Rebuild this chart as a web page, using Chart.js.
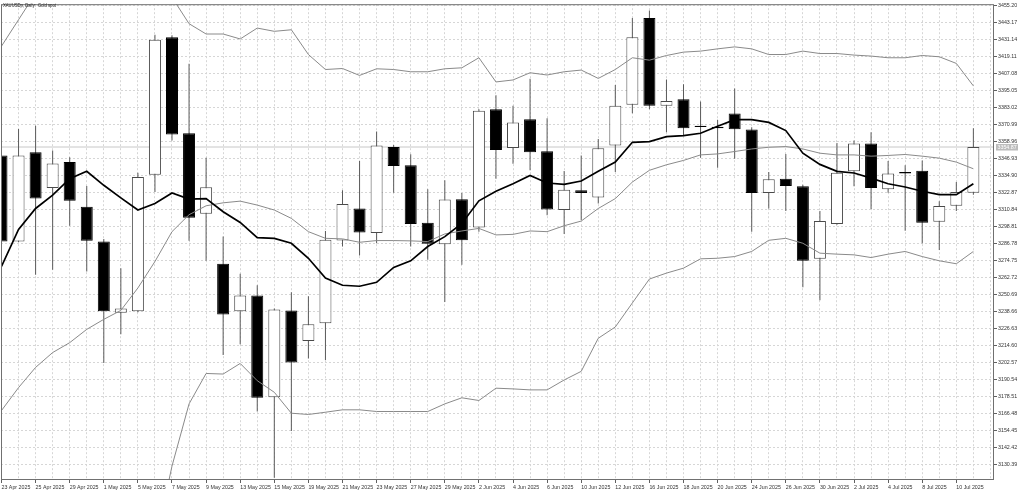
<!DOCTYPE html>
<html>
<head>
<meta charset="utf-8">
<title>XAUUSDp, Daily</title>
<script src="https://cdn.jsdelivr.net/npm/chart.js"></script>
<style>
  html, body { margin: 0; padding: 0; background: #ffffff; }
  canvas { display: block; }
</style>
</head>
<body>
<canvas id="chart" width="1024" height="492"></canvas>
<script>
const chartTitle = 'XAUUSDp, Daily:  Gold spot';

const dates = [
    '23 Apr 2025', '24 Apr 2025', '25 Apr 2025', '28 Apr 2025', '29 Apr 2025', '30 Apr 2025',
    '1 May 2025', '2 May 2025', '5 May 2025', '6 May 2025', '7 May 2025', '8 May 2025', '9 May 2025',
    '12 May 2025', '13 May 2025', '14 May 2025', '15 May 2025', '16 May 2025', '19 May 2025',
    '20 May 2025', '21 May 2025', '22 May 2025', '23 May 2025', '26 May 2025', '27 May 2025',
    '28 May 2025', '29 May 2025', '30 May 2025', '2 Jun 2025', '3 Jun 2025', '4 Jun 2025',
    '5 Jun 2025', '6 Jun 2025', '9 Jun 2025', '10 Jun 2025', '11 Jun 2025', '12 Jun 2025',
    '13 Jun 2025', '16 Jun 2025', '17 Jun 2025', '18 Jun 2025', '19 Jun 2025', '20 Jun 2025',
    '23 Jun 2025', '24 Jun 2025', '25 Jun 2025', '26 Jun 2025', '27 Jun 2025', '30 Jun 2025',
    '1 Jul 2025', '2 Jul 2025', '3 Jul 2025', '4 Jul 2025', '7 Jul 2025', '8 Jul 2025',
    '9 Jul 2025', '10 Jul 2025', '11 Jul 2025'
];

const opens = [
    3348.9, 3288.0, 3351.2, 3325.9, 3344.2, 3312.6, 3288.0, 3237.6, 3238.8, 3335.3,
    3432.5, 3364.6, 3307.7, 3272.3, 3238.8, 3249.8, 3177.9, 3239.3, 3217.7, 3230.2,
    3288.7, 3311.4, 3294.1, 3354.9, 3341.9, 3301.3, 3286.1, 3318.0, 3298.0, 3381.6,
    3354.2, 3374.6, 3351.9, 3310.3, 3324.3, 3319.1, 3355.9, 3384.7, 3446.1, 3384.0,
    3388.7, 3370.0, 3369.2, 3378.6, 3367.2, 3322.4, 3332.5, 3327.1, 3275.8, 3300.4,
    3337.7, 3357.3, 3325.0, 3337.2, 3338.1, 3302.0, 3313.3, 3322.6
];
const highs = [
    3351.2, 3367.6, 3370.0, 3352.4, 3347.7, 3327.3, 3289.9, 3269.2, 3336.7, 3434.3,
    3433.9, 3413.7, 3347.2, 3291.5, 3265.3, 3257.1, 3240.6, 3252.1, 3249.3, 3295.5,
    3324.3, 3344.9, 3365.8, 3356.3, 3349.8, 3325.0, 3331.3, 3322.4, 3381.6, 3391.5,
    3384.0, 3403.2, 3375.3, 3337.9, 3348.9, 3360.6, 3398.8, 3446.1, 3451.5, 3402.7,
    3399.2, 3387.0, 3374.2, 3396.2, 3368.8, 3337.2, 3350.0, 3328.2, 3309.6, 3357.7,
    3359.4, 3365.3, 3344.9, 3341.9, 3345.4, 3316.6, 3330.1, 3368.1
];
const lows = [
    3285.9, 3287.5, 3264.6, 3268.1, 3299.2, 3266.9, 3202.1, 3222.4, 3238.0, 3323.1,
    3359.4, 3288.5, 3274.4, 3207.7, 3215.4, 3167.8, 3121.0, 3154.0, 3205.3, 3204.2,
    3284.5, 3278.1, 3286.8, 3322.6, 3284.5, 3275.1, 3245.3, 3271.6, 3295.0, 3332.5,
    3343.0, 3338.4, 3306.7, 3293.4, 3303.2, 3314.9, 3337.2, 3378.8, 3381.6, 3365.3,
    3362.9, 3347.2, 3340.2, 3346.5, 3295.0, 3311.4, 3309.6, 3255.7, 3246.5, 3299.9,
    3327.1, 3311.0, 3322.6, 3295.7, 3286.8, 3282.1, 3309.6, 3321.2
];
const closes = [
    3288.0, 3348.9, 3318.4, 3343.3, 3316.8, 3288.5, 3238.8, 3240.7, 3333.6, 3430.8,
    3363.7, 3304.8, 3326.4, 3236.5, 3249.8, 3177.5, 3240.0, 3202.5, 3229.5, 3289.2,
    3314.5, 3294.5, 3355.9, 3341.4, 3300.4, 3286.4, 3317.7, 3288.9, 3380.5, 3352.8,
    3372.3, 3351.2, 3310.7, 3324.7, 3322.4, 3354.0, 3384.0, 3432.5, 3384.0, 3387.5,
    3368.1, 3369.0, 3368.2, 3367.4, 3322.4, 3332.0, 3327.3, 3274.4, 3302.5, 3336.7,
    3357.3, 3325.9, 3336.2, 3336.2, 3301.3, 3313.1, 3323.1, 3354.87
];

// Bollinger bands (upper part above the chart and lower part below it at the start)
const bandUpper = [
    3426.2, 3444.9, 3463.6, 3476.3, 3484.7, 3488.9, 3490.3, 3488.2, 3483.3, 3474.9,
    3460.8, 3442.1, 3434.8, 3434.8, 3431.3, 3439.0, 3436.7, 3437.8, 3420.3, 3409.7,
    3410.4, 3405.5, 3410.2, 3409.7, 3408.1, 3408.1, 3410.2, 3410.9, 3418.0, 3400.9,
    3402.3, 3407.4, 3405.8, 3408.1, 3409.3, 3403.4, 3409.7, 3418.0, 3416.3, 3419.6,
    3422.0, 3422.7, 3424.3, 3425.7, 3424.3, 3420.3, 3420.3, 3422.7, 3421.0, 3421.0,
    3419.9, 3419.2, 3418.0, 3418.0, 3419.6, 3418.7, 3414.0, 3398.1
];
const bandMiddle = [
    3168.5, 3184.7, 3199.0, 3209.5, 3216.5, 3225.9, 3233.0, 3239.3, 3255.2, 3273.9,
    3295.0, 3307.0, 3313.3, 3315.4, 3316.6, 3313.8, 3310.3, 3304.4, 3295.0, 3290.3,
    3289.9, 3287.5, 3288.7, 3288.7, 3288.5, 3288.0, 3293.4, 3295.5, 3297.3, 3292.7,
    3293.1, 3295.5, 3295.0, 3299.2, 3302.5, 3311.4, 3318.4, 3330.1, 3338.4, 3342.3,
    3345.4, 3349.3, 3350.0, 3351.7, 3353.5, 3354.7, 3355.2, 3353.5, 3350.5, 3349.3,
    3349.3, 3348.4, 3348.9, 3349.6, 3348.4, 3347.0, 3344.2, 3339.5
];
const bandLower = [
    2910.9, 2924.7, 2934.6, 2943.0, 2948.6, 2962.7, 2975.3, 2990.1, 3027.3, 3073.0,
    3129.2, 3173.2, 3194.7, 3194.3, 3201.8, 3189.6, 3181.4, 3166.6, 3165.7, 3167.3,
    3169.0, 3169.0, 3167.8, 3167.8, 3167.8, 3167.8, 3173.2, 3177.5, 3175.6, 3184.3,
    3183.8, 3183.1, 3183.1, 3190.1, 3196.2, 3219.6, 3227.6, 3244.6, 3261.5, 3265.7,
    3269.2, 3275.8, 3276.2, 3277.4, 3281.0, 3288.9, 3290.3, 3286.8, 3279.8, 3279.1,
    3278.6, 3276.7, 3279.1, 3281.0, 3277.4, 3274.4, 3272.3, 3281.0
];
// moving average (thick line)
const maLine = [
    3270.4, 3296.6, 3311.4, 3320.8, 3332.5, 3337.7, 3327.8, 3318.9, 3310.3, 3314.9,
    3322.4, 3318.0, 3318.4, 3309.1, 3301.5, 3290.8, 3290.3, 3286.8, 3276.2, 3262.2,
    3257.1, 3256.4, 3259.2, 3269.7, 3274.4, 3284.5, 3291.5, 3300.8, 3316.8, 3323.6,
    3328.9, 3334.8, 3329.4, 3328.5, 3330.8, 3337.7, 3344.2, 3358.2, 3358.7, 3362.2,
    3362.9, 3364.6, 3369.5, 3374.2, 3374.2, 3372.3, 3366.5, 3350.5, 3342.6, 3337.7,
    3336.5, 3332.9, 3328.9, 3326.6, 3323.6, 3321.2, 3321.2, 3328.9
];

const priceTicks = [
    3455.20, 3443.17, 3431.14, 3419.11, 3407.08, 3395.05, 3383.02, 3370.99, 3358.96, 3346.93,
    3334.90, 3322.87, 3310.84, 3298.81, 3286.78, 3274.75, 3262.72, 3250.69, 3238.66, 3226.63,
    3214.60, 3202.57, 3190.54, 3178.51, 3166.48, 3154.45, 3142.42, 3130.39
];

const lastPrice = closes[closes.length - 1];
const tickFont = { family: 'Liberation Sans', size: 5.3 };

const toPoints = (arr) => arr.map((v, i) => ({ x: i, y: v }));
const isUp = (i) => closes[i] >= opens[i];

const chartDecor = {
    id: 'chartDecor',
    afterDraw(chart) {
        const { ctx, chartArea: a, scales } = chart;
        ctx.save();
        ctx.strokeStyle = '#707070';
        ctx.lineWidth = 1;
        ctx.strokeRect(a.left + 0.5, a.top + 0.5, a.right - a.left - 1, a.bottom - a.top - 1);

        ctx.fillStyle = '#1e1e1e';
        ctx.font = '5.6px "Liberation Sans"';
        ctx.textBaseline = 'middle';
        ctx.translate(3, 5.5);
        ctx.scale(0.75, 1);
        ctx.fillText(chartTitle, 0, 0);
        ctx.restore();

        // bid label on the price axis
        const y = scales.y.getPixelForValue(lastPrice);
        ctx.save();
        ctx.fillStyle = '#bcbcbc';
        ctx.fillRect(a.right + 2, y - 3, 22, 6.5);
        ctx.fillStyle = '#ffffff';
        ctx.font = '5.3px "Liberation Sans"';
        ctx.textBaseline = 'middle';
        ctx.fillText(lastPrice.toFixed(2), a.right + 3.5, y + 0.3);
        ctx.restore();
    }
};

const ctx = document.getElementById('chart').getContext('2d');
new Chart(ctx, {
    type: 'bar',
    data: {
        datasets: [
            {
                type: 'line', label: 'MA', data: toPoints(maLine), order: 0,
                borderColor: '#000000', borderWidth: 1.7, pointRadius: 0, tension: 0, clip: 0
            },
            {
                type: 'line', label: 'BB upper', data: toPoints(bandUpper), order: 1,
                borderColor: '#8a8a8a', borderWidth: 1, pointRadius: 0, tension: 0, clip: 0
            },
            {
                type: 'line', label: 'BB middle', data: toPoints(bandMiddle), order: 1,
                borderColor: '#8a8a8a', borderWidth: 1, pointRadius: 0, tension: 0, clip: 0
            },
            {
                type: 'line', label: 'BB lower', data: toPoints(bandLower), order: 1,
                borderColor: '#8a8a8a', borderWidth: 1, pointRadius: 0, tension: 0, clip: 0
            },
            {
                type: 'bar', label: 'Body',
                data: opens.map((o, i) => ({ x: i, y: [o, closes[i]] })),
                order: 2, grouped: false, barThickness: 12, inflateAmount: 0,
                backgroundColor: opens.map((o, i) => isUp(i) ? '#ffffff' : '#000000'),
                borderColor: opens.map((o, i) => isUp(i) ? '#4a4a4a' : '#000000'),
                borderWidth: 1, borderSkipped: false
            },
            {
                type: 'bar', label: 'Wick',
                data: lows.map((l, i) => ({ x: i, y: [l, highs[i]] })),
                order: 3, grouped: false, barThickness: 1, inflateAmount: 0,
                backgroundColor: '#5a5a5a', borderWidth: 0
            },
            {
                type: 'line', label: 'Bid',
                data: [{ x: -1, y: lastPrice }, { x: 60, y: lastPrice }], order: 5,
                borderColor: '#c8c8c8', borderWidth: 1, pointRadius: 0, clip: 0
            }
        ]
    },
    options: {
        responsive: false,
        devicePixelRatio: 1,
        animation: false,
        layout: { padding: { left: 1, top: 1, right: 0, bottom: 0 } },
        plugins: { legend: { display: false }, tooltip: { enabled: false } },
        scales: {
            x: {
                type: 'linear', min: -0.029, max: 58.21, offset: false,
                grid: {
                    offset: false, color: '#d6d6d6', lineWidth: 1, tickLength: 3,
                    tickColor: (c) => (c.index % 2 === 0 && c.index < dates.length) ? '#606060' : 'rgba(0,0,0,0)'
                },
                border: { display: false, dash: [2, 2] },
                afterBuildTicks: (scale) => {
                    scale.ticks = Array.from({ length: dates.length + 1 }, (_, i) => ({ value: i }));
                },
                afterFit: (scale) => { scale.height = 12; },
                ticks: {
                    autoSkip: false, maxRotation: 0, minRotation: 0, align: 'start', padding: 1,
                    color: '#333333', font: tickFont,
                    callback: (v) => (v % 2 === 0 && dates[v]) ? dates[v] : ''
                }
            },
            y: {
                type: 'linear', position: 'right', min: 3119.36, max: 3455.9,
                grid: { color: '#d6d6d6', lineWidth: 1, tickLength: 3, tickColor: '#606060' },
                border: { display: false, dash: [2, 2] },
                afterBuildTicks: (scale) => {
                    scale.ticks = priceTicks.map(v => ({ value: v }));
                },
                afterFit: (scale) => { scale.width = 30; },
                ticks: {
                    autoSkip: false, padding: 1, color: '#333333', font: tickFont,
                    callback: (v) => v.toFixed(2)
                }
            }
        }
    },
    plugins: [chartDecor]
});
</script>
</body>
</html>
